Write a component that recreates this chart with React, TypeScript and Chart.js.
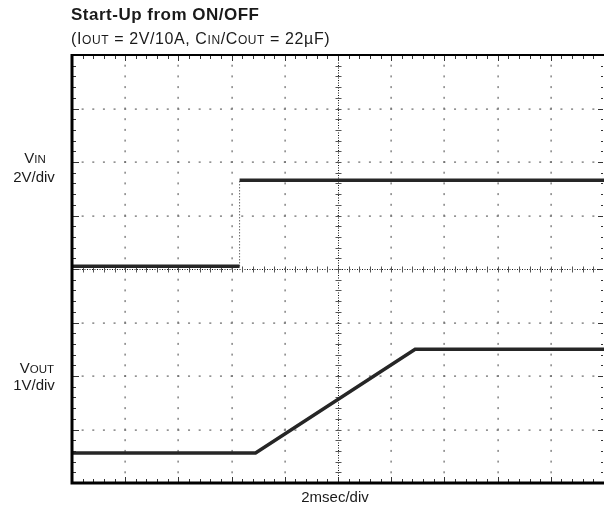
import React, { useEffect, useRef } from "react";
import { Chart, registerables } from "chart.js";

Chart.register(...registerables);

// Scope screen in divisions: 10 horizontal (2 ms/div), 8 vertical
const divisionsX = 10;
const divisionsY = 8;
const subDivisions = 5;

// VIN trace (time in div, level in div from bottom)
const vinTime = [0, 3.15, 3.15, 10];
const vinLevel = [4.05, 4.05, 5.66, 5.66];

// VOUT trace
const voutTime = [0, 3.45, 6.45, 10];
const voutLevel = [0.56, 0.56, 2.5, 2.5];

const FONT = '"Liberation Sans", Arial, Helvetica, sans-serif';

const scopeGrid = {
  id: "scopeGrid",
  beforeDatasetsDraw(chart: any) {
    const { ctx, chartArea: a, scales } = chart;
    const x = scales.x;
    const y = scales.y;
    const line = (x1: number, y1: number, x2: number, y2: number) => {
      ctx.beginPath();
      ctx.moveTo(x1, y1);
      ctx.lineTo(x2, y2);
      ctx.stroke();
    };
    ctx.save();
    // dotted major grid
    ctx.fillStyle = "#666";
    for (let i = 1; i < divisionsX; i++) {
      if (i === divisionsX / 2) continue;
      const px = Math.round(x.getPixelForValue(i));
      for (let j = 1; j < divisionsY * subDivisions; j++) {
        const py = y.getPixelForValue(j / subDivisions);
        ctx.fillRect(px - 0.5, py - 1, 1.2, 2);
      }
    }
    for (let k = 1; k < divisionsY; k++) {
      if (k === divisionsY / 2) continue;
      const py = Math.round(y.getPixelForValue(k));
      for (let j = 1; j < divisionsX * subDivisions; j++) {
        const px = x.getPixelForValue(j / subDivisions);
        ctx.fillRect(px - 1, py - 0.5, 2, 1.2);
      }
    }
    // centre cross
    const cx = Math.round(x.getPixelForValue(divisionsX / 2)) + 0.5;
    const cy = Math.round(y.getPixelForValue(divisionsY / 2)) + 0.5;
    ctx.strokeStyle = "#111";
    ctx.lineWidth = 1;
    ctx.setLineDash([1, 1.5]);
    line(cx, a.top, cx, a.bottom);
    line(a.left, cy, a.right, cy);
    ctx.setLineDash([]);
    ctx.strokeStyle = "#555";
    for (let j = 1; j < divisionsY * subDivisions; j++) {
      const py = Math.round(y.getPixelForValue(j / subDivisions)) + 0.5;
      line(cx - 3, py, cx + 3, py);
    }
    for (let j = 1; j < divisionsX * subDivisions; j++) {
      const px = Math.round(x.getPixelForValue(j / subDivisions)) + 0.5;
      line(px, cy - 3, px, cy + 3);
    }
    // edge ticks
    ctx.strokeStyle = "#333";
    for (let j = 1; j < divisionsY * subDivisions; j++) {
      const py = Math.round(y.getPixelForValue(j / subDivisions)) + 0.5;
      const major = j % subDivisions === 0;
      line(a.left, py, a.left + (major ? 7 : 4), py);
      line(a.right - (major ? 6 : 3), py, a.right - 1, py);
    }
    for (let j = 1; j < divisionsX * subDivisions; j++) {
      const px = Math.round(x.getPixelForValue(j / subDivisions)) + 0.5;
      const major = j % subDivisions === 0;
      line(px, a.top, px, a.top + (major ? 6 : 4));
      line(px, a.bottom, px, a.bottom - (major ? 6 : 4));
    }
    ctx.restore();
  },
  afterDatasetsDraw(chart: any) {
    const { ctx, chartArea: a } = chart;
    ctx.save();
    ctx.strokeStyle = "#000";
    ctx.lineWidth = 2;
    ctx.beginPath();
    ctx.moveTo(a.left, a.top);
    ctx.lineTo(a.right, a.top);
    ctx.stroke();
    ctx.lineWidth = 3;
    ctx.beginPath();
    ctx.moveTo(a.left, a.top - 1);
    ctx.lineTo(a.left, a.bottom);
    ctx.lineTo(a.right, a.bottom);
    ctx.stroke();
    ctx.restore();
  },
};

const Small = ({ children, size = 11.5 }: { children: React.ReactNode; size?: number }) => (
  <span style={{ fontSize: size }}>{children}</span>
);

export default function App() {
  const canvasRef = useRef<HTMLCanvasElement | null>(null);

  useEffect(() => {
    document.body.style.margin = "0";
    const canvas = canvasRef.current;
    if (!canvas) return;
    const traceStyle = {
      borderColor: "#262626",
      borderWidth: 3.5,
      pointRadius: 0,
      fill: false,
      tension: 0,
      segment: {
        borderWidth: (c: any) => (c.p0.parsed.x === c.p1.parsed.x ? 1 : undefined),
        borderDash: (c: any) => (c.p0.parsed.x === c.p1.parsed.x ? [1, 2] : undefined),
      },
    };
    const chart = new Chart(canvas, {
      type: "line",
      data: {
        datasets: [
          {
            label: "VIN",
            data: vinTime.map((t, i) => ({ x: t, y: vinLevel[i] })),
            ...traceStyle,
          },
          {
            label: "VOUT",
            data: voutTime.map((t, i) => ({ x: t, y: voutLevel[i] })),
            ...traceStyle,
          },
        ],
      },
      options: {
        animation: false,
        responsive: false,
        devicePixelRatio: 1,
        layout: { padding: { left: 72, top: 55, right: 1, bottom: 23 } },
        plugins: { legend: { display: false }, tooltip: { enabled: false }, title: { display: false } },
        scales: {
          x: { type: "linear", min: 0, max: divisionsX, display: false },
          y: { type: "linear", min: 0, max: divisionsY, display: false },
        },
      },
      plugins: [scopeGrid],
    } as any);
    return () => chart.destroy();
  }, []);

  const text: React.CSSProperties = {
    position: "absolute",
    fontFamily: FONT,
    fontSize: 15,
    lineHeight: "15px",
    color: "#1a1a1a",
    whiteSpace: "nowrap",
  };

  return (
    <div style={{ position: "relative", width: 605, height: 506, background: "#fff", overflow: "hidden" }}>
      <canvas ref={canvasRef} width={605} height={506} style={{ position: "absolute", left: 0, top: 0 }} />
      <div
        style={{ ...text, left: 71, top: 5.5, fontSize: 17, lineHeight: "17px", fontWeight: "bold", letterSpacing: 0.5 }}
      >
        Start-Up from ON/OFF
      </div>
      <div style={{ ...text, left: 71, top: 30.5, fontSize: 16, lineHeight: "16px", letterSpacing: 0.6 }}>
        (I<Small size={12}>OUT</Small> = 2V/10A, C<Small size={12}>IN</Small>/C<Small size={12}>OUT</Small> = 22µF)
      </div>
      <div style={{ ...text, left: 0, width: 70, textAlign: "center", top: 150 }}>
        V<Small>IN</Small>
      </div>
      <div style={{ ...text, left: 0, width: 68, textAlign: "center", top: 168.5 }}>2V/div</div>
      <div style={{ ...text, left: 0, width: 74, textAlign: "center", top: 359.5 }}>
        V<Small>OUT</Small>
      </div>
      <div style={{ ...text, left: 0, width: 68, textAlign: "center", top: 376.5 }}>1V/div</div>
      <div style={{ ...text, left: 300, width: 70, textAlign: "center", top: 489 }}>2msec/div</div>
    </div>
  );
}
